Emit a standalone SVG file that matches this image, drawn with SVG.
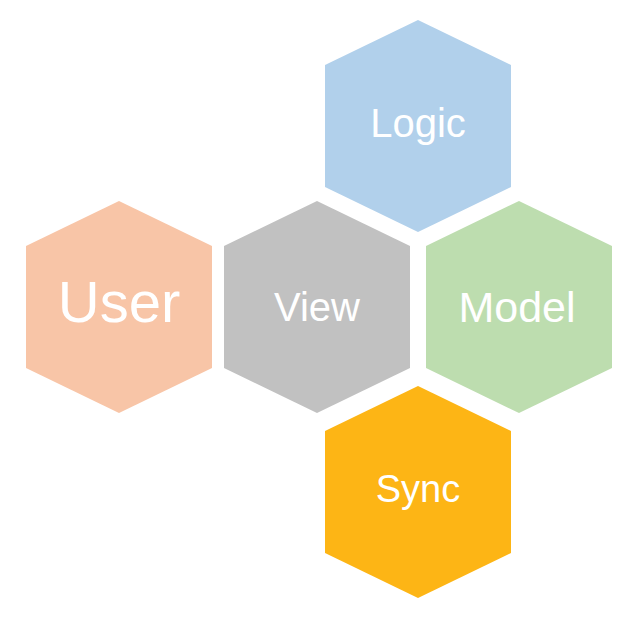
<svg xmlns="http://www.w3.org/2000/svg" width="640" height="624" viewBox="0 0 640 624">
<defs>
<style>
.hex{stroke:none}
.lbl{font-family:"Liberation Sans",Arial,sans-serif;fill:#ffffff;text-anchor:middle;font-size:40px}
</style>
<polygon id="hexshape" points="0,-106 93,-61 93,61 0,106 -93,61 -93,-61"/>
</defs>
<rect width="640" height="624" fill="#ffffff"/>
<g id="connectors"></g>
<g id="logic" transform="translate(418,126)">
<use href="#hexshape" fill="#B1D0EB"/>
<text class="lbl" x="0" y="11">Logic</text>
</g>
<g id="user" transform="translate(119,307)">
<use href="#hexshape" fill="#F8C5A7"/>
<text class="lbl" x="0" y="15" style="font-size:58px">User</text>
</g>
<g id="view" transform="translate(317,307)">
<use href="#hexshape" fill="#C1C1C1"/>
<text class="lbl" x="0" y="14">View</text>
</g>
<g id="model" transform="translate(519,307)">
<use href="#hexshape" fill="#BDDDAF"/>
<text class="lbl" x="-2" y="15" style="font-size:43px">Model</text>
</g>
<g id="sync" transform="translate(418,492)">
<use href="#hexshape" fill="#FDB515"/>
<text class="lbl" x="0" y="10" style="font-size:38px">Sync</text>
</g>
</svg>
